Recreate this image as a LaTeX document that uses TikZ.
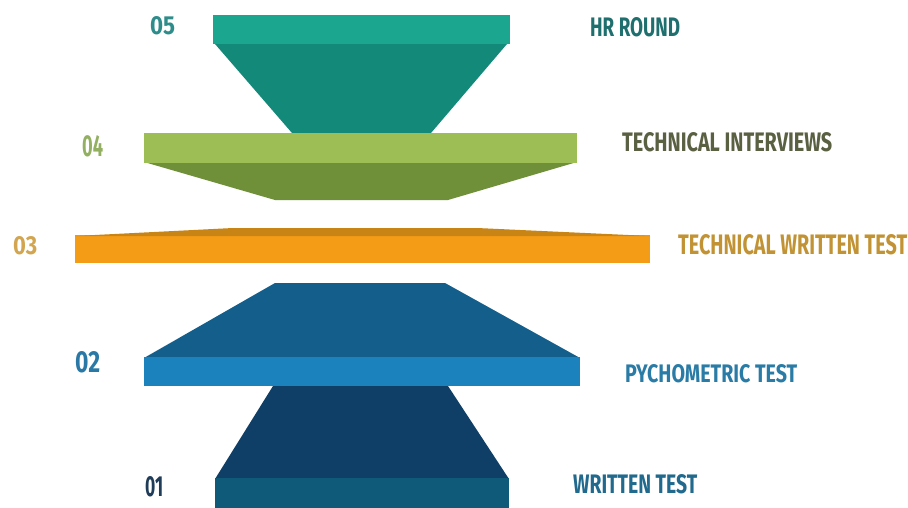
\documentclass[tikz,border=0pt]{standalone}
\usepackage{fontspec}
\setmainfont{Fira Sans}
\usepackage{graphicx}
\definecolor{tealTop}{HTML}{1BA68F}
\definecolor{tealBody}{HTML}{13897A}
\definecolor{tealNum}{HTML}{2E8C8A}
\definecolor{tealTxt}{HTML}{1F6F6F}
\definecolor{greenTop}{HTML}{9DBE55}
\definecolor{greenBody}{HTML}{6F9038}
\definecolor{greenNum}{HTML}{93B062}
\definecolor{greenTxt}{HTML}{5A6042}
\definecolor{orBar}{HTML}{F59C17}
\definecolor{orBand}{HTML}{C98416}
\definecolor{orNum}{HTML}{D2A550}
\definecolor{orTxt}{HTML}{C29334}
\definecolor{blueBody}{HTML}{145E8C}
\definecolor{blueTop}{HTML}{1B82BD}
\definecolor{blueNum}{HTML}{2A78A6}
\definecolor{blueTxt}{HTML}{2A7CA6}
\definecolor{navyBody}{HTML}{0F3F66}
\definecolor{navyTop}{HTML}{0E5A78}
\definecolor{navyNum}{HTML}{1F3C58}
\definecolor{navyTxt}{HTML}{216A8E}
\newcommand{\lbl}[3]{\resizebox{#1pt}{#2pt}{\bfseries #3}}
\tikzset{lab/.style={inner sep=0pt, anchor=west}}
\begin{document}
\begin{tikzpicture}[x=1pt,y=-1pt]
\useasboundingbox (0,0) rectangle (908,508);
\fill[white] (0,0) rectangle (908,508);
% layer 05
\fill[tealBody] (215,44) -- (507,44) -- (431,133) -- (292,133) -- cycle;
\fill[tealTop] (213,15) rectangle (510,44);
% layer 04
\fill[greenBody] (144,162) -- (577,162) -- (448,200) -- (275,200) -- cycle;
\fill[greenTop] (144,133) rectangle (577,163);
% layer 03
\fill[orBar] (75,235) rectangle (650,263);
\fill[orBand] (75,236) -- (233,228) -- (477,228) -- (650,236) -- cycle;
% layer 02
\fill[blueBody] (275,283) -- (445,283) -- (580,358) -- (144,358) -- cycle;
\fill[blueTop] (144,357) rectangle (580,386);
% layer 01
\fill[navyBody] (273,386) -- (448,386) -- (509,479) -- (215,479) -- cycle;
\fill[navyTop] (215,478) rectangle (509,508);
% labels
\node[lab, text=tealNum] (n5) at (150,26) {\lbl{25}{18}{05}};
\node[lab, text=tealTxt] (t5) at (590,27.5) {\lbl{90}{19}{HR ROUND}};
\node[lab, text=greenNum] (n4) at (82,146) {\lbl{21}{21}{04}};
\node[lab, text=greenTxt] (t4) at (622,142.5) {\lbl{210}{19}{TECHNICAL INTERVIEWS}};
\node[lab, text=orNum] (n3) at (13,246) {\lbl{24}{18}{03}};
\node[lab, text=orTxt] (t3) at (678,245) {\lbl{229}{20}{TECHNICAL WRITTEN TEST}};
\node[lab, text=blueNum] (n2) at (75,362.5) {\lbl{25}{21}{02}};
\node[lab, text=blueTxt] (t2) at (625,374) {\lbl{172}{18}{PYCHOMETRIC TEST}};
\node[lab, text=navyNum] (n1) at (145,487) {\lbl{18}{20}{01}};
\node[lab, text=navyTxt] (t1) at (573,484.5) {\lbl{124}{19}{WRITTEN TEST}};
\end{tikzpicture}
\end{document}
